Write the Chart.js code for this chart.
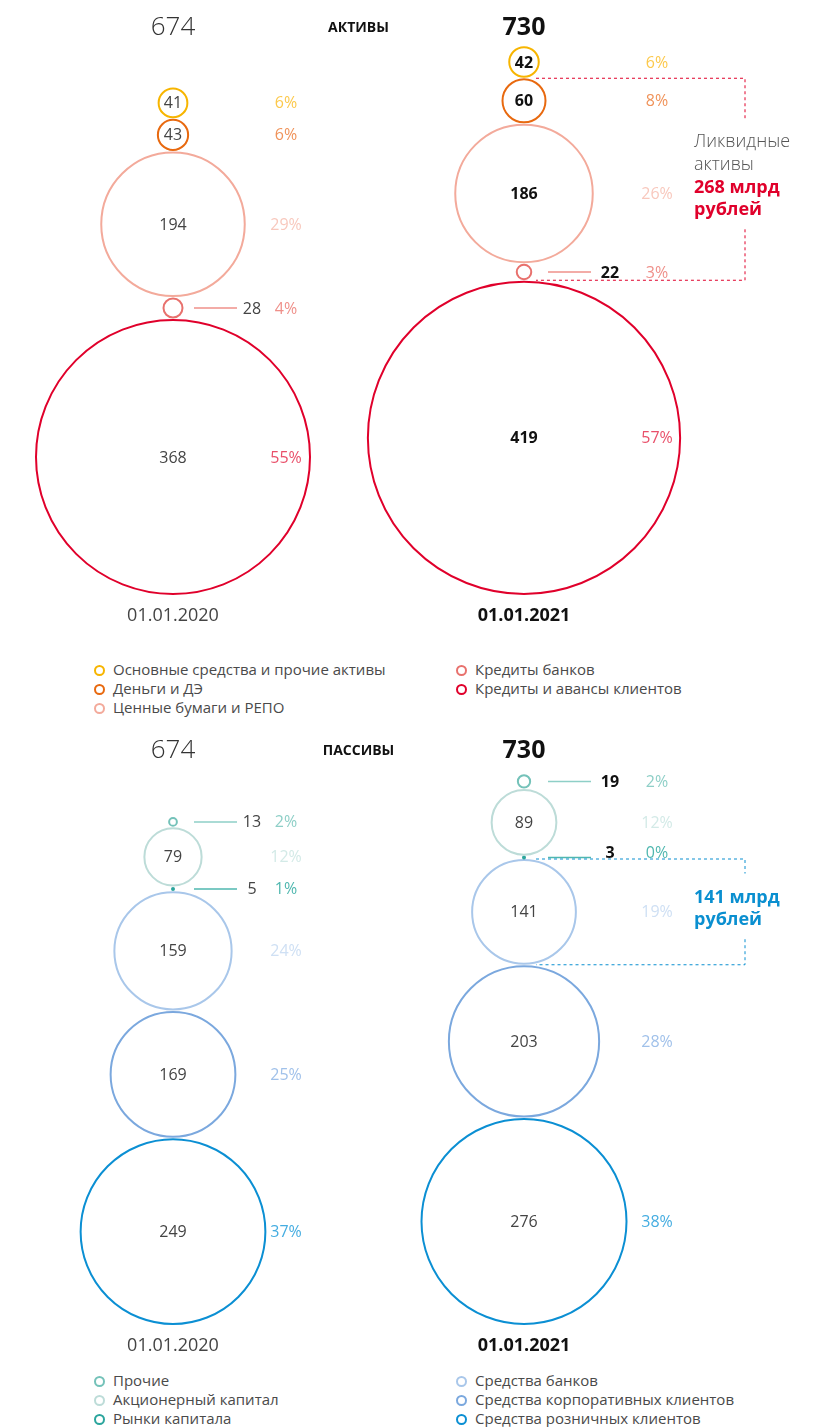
<!DOCTYPE html>
<html>
<head>
<meta charset="utf-8">
<script src="https://cdn.jsdelivr.net/npm/chart.js@4.4.1/dist/chart.umd.min.js"></script>
<style>
  body { margin: 0; background: #fff; width: 824px; height: 1427px; position: relative; overflow: hidden; font-family: "Open Sans", sans-serif; }
  canvas { position: absolute; left: 0; }
  #cAssets { top: 0; }
  #cLiab { top: 723px; }
  .lg { position: absolute; font-size: 15px; line-height: 19px; color: #4a4a4a; white-space: nowrap; }
  .mk { display: inline-block; box-sizing: border-box; width: 11px; height: 11px; border: 2px solid; border-radius: 50%; margin-right: 8px; vertical-align: -1px; }
</style>
</head>
<body>
<canvas id="cAssets" width="824" height="640"></canvas>
<canvas id="cLiab" width="824" height="645"></canvas>
<div id="legends"></div>
<script>
const dates = ['01.01.2020', '01.01.2021'];

// АКТИВЫ, сверху вниз
const assetNames = ['Основные средства и прочие активы', 'Деньги и ДЭ', 'Ценные бумаги и РЕПО', 'Кредиты банков', 'Кредиты и авансы клиентов'];
const assets2020 = [41, 43, 194, 28, 368];
const assets2021 = [42, 60, 186, 22, 419];
const assetsPct2020 = [6, 6, 29, 4, 55];
const assetsPct2021 = [6, 8, 26, 3, 57];
const assetsTotal = [674, 730];

// ПАССИВЫ, сверху вниз
const liabNames = ['Прочие', 'Акционерный капитал', 'Рынки капитала', 'Средства банков', 'Средства корпоративных клиентов', 'Средства розничных клиентов'];
const liab2020 = [13, 79, 5, 159, 169, 249];
const liab2021 = [19, 89, 3, 141, 203, 276];
const liabPct2020 = [2, 12, 1, 24, 25, 37];
const liabPct2021 = [2, 12, 0, 19, 28, 38];
const liabTotal = [674, 730];

const assetColors = ['#f7b500', '#e8690f', '#f3aa9b', '#e8716d', '#e0002b'];
const assetPctColors = ['#fcc94c', '#f0935a', '#f8c8bd', '#ef908a', '#e9506a'];
const liabColors = ['#74c2b9', '#bddcd8', '#2ba59d', '#a9c7ea', '#7ba8de', '#0b8fd3'];
const liabPctColors = ['#8ecfc7', '#d3eae7', '#4fb7af', '#cfe0f4', '#a0c1ea', '#45ade1'];

const K = 0.375;        // px на 1 млрд (радиус)
const GAP = 0.5 / K;    // зазор между кругами
const W = 824;
const COLX = [173, 524];
const OFFS = [{ l1: 21, l2: 64, v: 79, p: 113 }, { l1: 24, l2: 67, v: 86, p: 133 }];
const FONT = '"Open Sans", sans-serif';

// центры кругов: стопка снизу вверх
function stack(vals) {
  const ys = new Array(vals.length);
  let cum = 0;
  for (let i = vals.length - 1; i >= 0; i--) {
    ys[i] = cum + vals[i];
    cum += 2 * vals[i] + GAP;
  }
  return ys;
}

const labelPlugin = {
  id: 'labels',
  afterDatasetsDraw(chart) {
    const c = chart.ctx, cfg = chart.options.plugins.labels;
    const xs = chart.scales.x, ys = chart.scales.y;
    const base = ys.getPixelForValue(0);
    c.save();
    c.textBaseline = 'middle';
    c.textAlign = 'center';

    cfg.totals.forEach((t, col) => {
      const x = xs.getPixelForValue(col);
      c.fillStyle = col ? '#111' : '#333';
      c.font = col ? 'bold 25px ' + FONT : '300 26px ' + FONT;
      c.fillText(t, x, 28);
      c.fillStyle = col ? '#111' : '#444';
      c.font = (col ? 'bold ' : '') + '18px ' + FONT;
      c.fillText(dates[col], x, base + 21);
    });
    c.fillStyle = '#111';
    c.font = 'bold 14px ' + FONT;
    c.fillText(cfg.title, (xs.getPixelForValue(0) + xs.getPixelForValue(1)) / 2 + 10, 28);

    chart.data.datasets.forEach((ds, i) => {
      chart.getDatasetMeta(i).data.forEach((el, col) => {
        const p = ds.data[col], o = OFFS[col];
        const dy = (cfg.nudge && col === 1 && cfg.nudge[i]) || 0;
        if (p.v >= 35) {
          c.fillStyle = cfg.boldIn[col] ? '#111' : '#444';
          c.font = (cfg.boldIn[col] ? 'bold ' : '') + '16px ' + FONT;
          c.fillText(p.v, el.x, el.y + 1);
        } else {
          c.strokeStyle = ds.pctColor;
          c.lineWidth = 1.5;
          c.beginPath();
          c.moveTo(el.x + o.l1, el.y);
          c.lineTo(el.x + o.l2, el.y);
          c.stroke();
          c.fillStyle = cfg.boldOut[col] ? '#111' : '#444';
          c.font = (cfg.boldOut[col] ? 'bold ' : '') + '16px ' + FONT;
          c.fillText(p.v, el.x + o.v, el.y + 1 + dy);
        }
        c.fillStyle = ds.pctColor;
        c.font = '16px ' + FONT;
        c.fillText(p.pct + '%', el.x + o.p, el.y + 1 + dy);
      });
    });

    // пунктирная скобка
    const b = cfg.bracket;
    const mTop = chart.getDatasetMeta(b.from).data[1];
    const mBot = chart.getDatasetMeta(b.to).data[1];
    const top = mTop.y - chart.data.datasets[b.from].data[1].r - 1;
    const bot = mBot.y + chart.data.datasets[b.to].data[1].r + 1;
    const x0 = COLX[1] + 12, x1 = COLX[1] + 221;
    const lh = 22.7;
    const lines = b.lines.concat(b.boldLines);
    const first = (top + bot) / 2 - 3 - (lines.length - 1) * lh / 2;
    const last = first + (lines.length - 1) * lh;
    c.strokeStyle = b.color;
    c.lineWidth = 1;
    c.setLineDash([3, 3]);
    c.beginPath();
    c.moveTo(x0, top); c.lineTo(x1, top); c.lineTo(x1, first - 24);
    c.moveTo(x1, last + 19); c.lineTo(x1, bot); c.lineTo(x0, bot);
    c.stroke();
    c.setLineDash([]);
    c.textAlign = 'left';
    lines.forEach((t, k) => {
      const bold = k >= b.lines.length;
      c.fillStyle = bold ? b.color : '#555';
      c.font = (bold ? 'bold ' : '300 ') + '18px ' + FONT;
      c.fillText(t, COLX[1] + 170, first + k * lh);
    });
    c.restore();
  }
};

function buildChart(id, baseY, names, v20, v21, p20, p21, colors, pctColors, extra) {
  const H = document.getElementById(id).height;
  const y20 = stack(v20), y21 = stack(v21);
  const datasets = names.map((n, i) => ({
    label: n,
    data: [
      { x: 0, y: y20[i], r: Math.max(K * v20[i] - 1, 1), v: v20[i], pct: p20[i] },
      { x: 1, y: y21[i], r: Math.max(K * v21[i] - 1, 1), v: v21[i], pct: p21[i] }
    ],
    borderColor: colors[i],
    backgroundColor: ctx => (ctx.raw && ctx.raw.v < 8) ? colors[i] : 'rgba(255,255,255,0)',
    borderWidth: 2,
    hoverRadius: 0,
    clip: false,
    pctColor: pctColors[i]
  }));
  const sx = COLX[1] - COLX[0];
  new Chart(id, {
    type: 'bubble',
    data: { datasets },
    options: {
      responsive: false,
      animation: false,
      events: [],
      layout: { padding: 0, autoPadding: false },
      scales: {
        x: { type: 'linear', display: false, min: -COLX[0] / sx, max: (W - COLX[0]) / sx },
        y: { type: 'linear', display: false, min: -(H - baseY) / K, max: baseY / K }
      },
      plugins: {
        legend: { display: false },
        tooltip: { enabled: false },
        labels: extra
      }
    },
    plugins: [labelPlugin]
  });
}

function legend(names, colors, left, top, split) {
  const box = document.getElementById('legends');
  names.forEach((n, i) => {
    const col = i < split ? 0 : 1;
    const row = col ? i - split : i;
    const d = document.createElement('div');
    d.className = 'lg';
    d.style.left = (col ? left[1] : left[0]) + 'px';
    d.style.top = (top + row * 19) + 'px';
    d.innerHTML = '<span class="mk" style="border-color:' + colors[i] + '"></span>' + n;
    box.appendChild(d);
  });
}

function sum(a, from, to) { let s = 0; for (let i = from; i <= to; i++) s += a[i]; return s; }

function draw() {
  buildChart('cAssets', 595, assetNames, assets2020, assets2021, assetsPct2020, assetsPct2021, assetColors, assetPctColors, {
    title: 'АКТИВЫ', totals: assetsTotal, boldIn: [false, true], boldOut: [false, true],
    bracket: { from: 1, to: 3, color: '#e0002b', lines: ['Ликвидные', 'активы'], boldLines: [sum(assets2021, 1, 3) + ' млрд', 'рублей'] }
  });
  buildChart('cLiab', 602, liabNames, liab2020, liab2021, liabPct2020, liabPct2021, liabColors, liabPctColors, {
    title: 'ПАССИВЫ', totals: liabTotal, boldIn: [false, false], boldOut: [false, true], nudge: { 2: -5 },
    bracket: { from: 3, to: 3, color: '#0a8fd0', lines: [], boldLines: [sum(liab2021, 3, 3) + ' млрд', 'рублей'] }
  });
  legend(assetNames, assetColors, [94, 456], 660, 3);
  legend(liabNames, liabColors, [94, 456], 1371, 3);
}

Promise.all([
  document.fonts.load('16px "Open Sans"'),
  document.fonts.load('bold 16px "Open Sans"'),
  document.fonts.load('300 16px "Open Sans"')
]).then(draw, draw);
</script>
</body>
</html>
